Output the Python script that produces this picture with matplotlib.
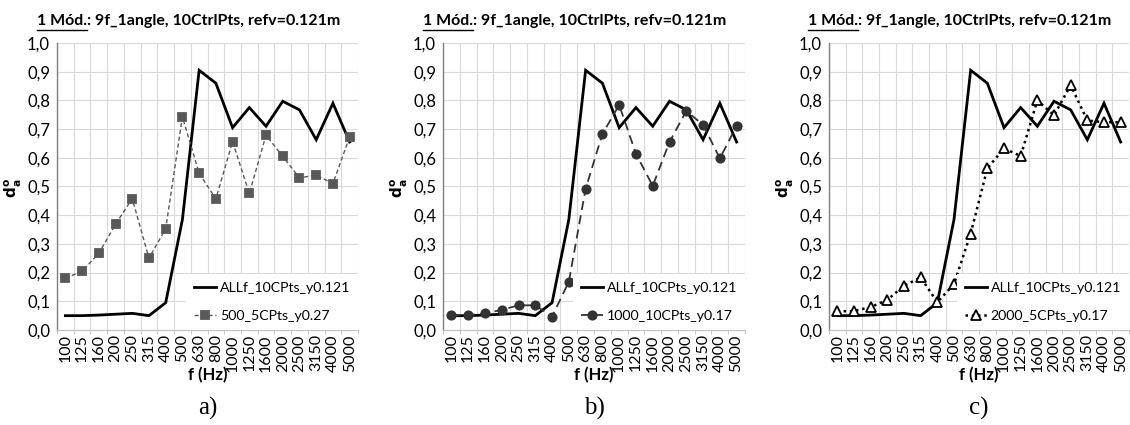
import matplotlib
matplotlib.use("Agg")
import matplotlib.pyplot as plt
from matplotlib.lines import Line2D
from matplotlib.ticker import FuncFormatter, MultipleLocator, FixedLocator

plt.rcParams['font.family'] = ['Lato', 'DejaVu Sans']

freqs = ['100', '125', '160', '200', '250', '315', '400', '500', '630', '800',
         '1000', '1250', '1600', '2000', '2500', '3150', '4000', '5000']

allf_10cpts = [0.050, 0.050, 0.052, 0.055, 0.058, 0.050, 0.095, 0.385, 0.905,
               0.860, 0.705, 0.775, 0.710, 0.797, 0.767, 0.663, 0.790, 0.655]

s500_5cpts = [0.180, 0.205, 0.267, 0.368, 0.458, 0.250, 0.353, 0.743, 0.546,
              0.457, 0.656, 0.476, 0.679, 0.605, 0.530, 0.540, 0.510, 0.673]

s1000_10cpts = [0.052, 0.052, 0.058, 0.070, 0.086, 0.086, 0.047, 0.168, 0.492,
                0.683, 0.784, 0.614, 0.502, 0.655, 0.763, 0.715, 0.598, 0.711]

s2000_5cpts = [0.065, 0.066, 0.080, 0.105, 0.154, 0.183, 0.097, 0.160, 0.336,
               0.563, 0.633, 0.606, 0.800, 0.748, 0.853, 0.730, 0.724, 0.724]

title_main = '1 Mód.'
title_rest = ': 9f_1angle, 10CtrlPts, refv=0.121m'
panel_tags = ['a)', 'b)', 'c)']

W, H = 1130, 425
fig = plt.figure(figsize=(W / 100, H / 100), dpi=100)

# axes boxes in pixels: left, right, top, bottom (from figure top)
boxes = [(57, 358, 43, 330), (443, 745, 43, 330), (829, 1129, 43, 330)]

series = [
    dict(y=s500_5cpts, label='500_5CPts_y0.27', color='#595959', ls=(0, (3, 2)),
         lw=1.0, marker='s', ms=6, mfc='#595959', mec='#595959'),
    dict(y=s1000_10cpts, label='1000_10CPts_y0.17', color='#333333', ls=(0, (5, 3)),
         lw=1.3, marker='o', ms=6, mfc='#333333', mec='#333333'),
    dict(y=s2000_5cpts, label='2000_5CPts_y0.17', color='black', ls=(0, (1, 1.5)),
         lw=1.8, marker='^', ms=6.5, mfc='white', mec='black'),
]

x = list(range(len(freqs)))
fmt = FuncFormatter(lambda v, p: f'{v:.1f}'.replace('.', ','))

axes = []
for (l, r, t, b), s, tag in zip(boxes, series, panel_tags):
    ax = fig.add_axes([l / W, (H - b) / H, (r - l) / W, (b - t) / H])
    axes.append(ax)
    ax.plot(x, allf_10cpts, color='black', lw=2.0, label='ALLf_10CPts_y0.121',
            solid_joinstyle='miter', zorder=3)
    ax.plot(x, s['y'], color=s['color'], ls=s['ls'], lw=s['lw'], marker=s['marker'],
            ms=s['ms'], mfc=s['mfc'], mec=s['mec'], mew=1.3, label=s['label'], zorder=4)

    ax.set_xlim(-0.5, len(freqs) - 0.5)
    ax.set_ylim(0, 1.0)
    ax.yaxis.set_major_locator(MultipleLocator(0.1))
    ax.yaxis.set_major_formatter(fmt)
    ax.set_xticks(x)
    ax.set_xticklabels(freqs, rotation=90, fontsize=11.5)
    ax.xaxis.set_minor_locator(FixedLocator([i - 0.5 for i in range(len(freqs) + 1)]))
    ax.tick_params(axis='x', which='major', length=0, pad=3)
    ax.tick_params(axis='x', which='minor', length=3, color='#bfbfbf')
    ax.tick_params(axis='y', length=0, labelsize=12, pad=5)
    ax.grid(True, axis='y', which='major', color='#d9d9d9', lw=0.8)
    ax.grid(True, axis='x', which='minor', color='#d9d9d9', lw=0.8)
    ax.set_axisbelow(True)
    for side in ('top', 'right'):
        ax.spines[side].set_visible(False)
    ax.spines['left'].set_color('#808080')
    ax.spines['bottom'].set_color('#bfbfbf')
    ax.spines['left'].set_linewidth(1.0)

    leg = ax.legend(loc='lower right', fontsize=10.2, frameon=True, facecolor='white',
                    edgecolor='none', framealpha=1, fancybox=False, handlelength=1.6,
                    handletextpad=0.25, labelspacing=1.15, borderaxespad=0.0,
                    borderpad=0.55)
    leg.set_zorder(5)

    ax.text(0.5, -0.157, 'f (Hz)', transform=ax.transAxes, ha='center', va='center',
            fontsize=12, fontweight='bold')
    fig.text((l - 44) / W, (H - 188) / H, r'$\mathbf{d_{a}^{o}}$', rotation=90,
             ha='center', va='center', fontsize=11)
    fig.text(((l + r) / 2) / W, (H - 408) / H, tag, ha='center', va='center',
             fontsize=18, family='Liberation Serif')

# titles with an underlined mode label
fig.canvas.draw()
renderer = fig.canvas.get_renderer()
for (l, r, t, b) in boxes:
    cx = (l + r) / 2 - 19
    ty = (H - 21) / H
    t1 = fig.text(0, ty, title_main, fontsize=11.5, fontweight='bold', va='center')
    t2 = fig.text(0, ty, title_rest, fontsize=11.5, fontweight='bold', va='center')
    w1 = t1.get_window_extent(renderer).width
    w2 = t2.get_window_extent(renderer).width
    x0 = cx - (w1 + w2) / 2
    t1.set_x(x0 / W)
    t2.set_x((x0 + w1) / W)
    uy = (H - 29.5) / H
    fig.add_artist(Line2D([x0 / W, (x0 + w1) / W], [uy, uy], transform=fig.transFigure,
                          color='black', lw=1.0))

fig.savefig('out.png', dpi=100)
